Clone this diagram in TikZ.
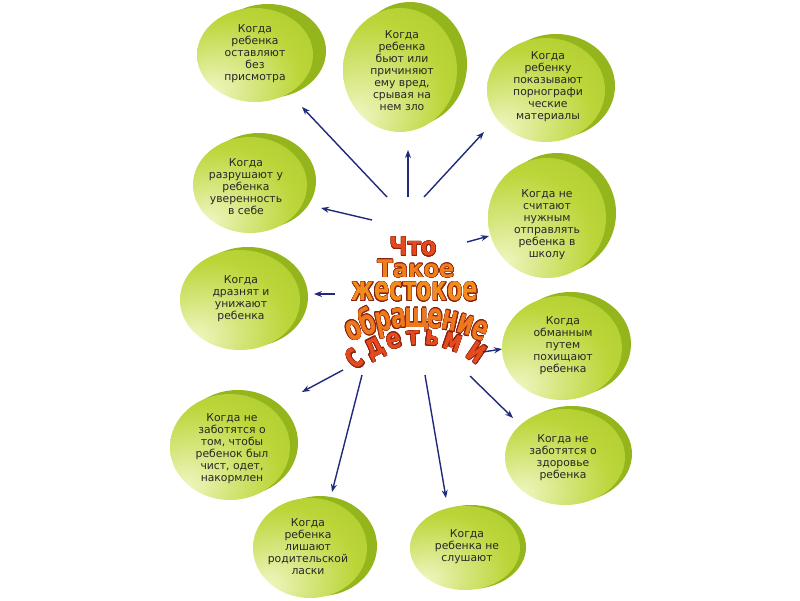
\documentclass[tikz,border=0pt]{standalone}
\usepackage{fontspec}
\usepackage{contour}
\usetikzlibrary{arrows.meta}
\newfontfamily\bubblefont{DejaVu Sans}
\newfontfamily\wordfont{DejaVu Sans}
\definecolor{bubblelight}{HTML}{F2F7C6}
\definecolor{bubblemid}{HTML}{BCD63A}
\definecolor{bubbledark}{HTML}{A6C626}
\definecolor{bubbleback}{HTML}{94B61C}
\definecolor{bubbleink}{HTML}{262626}
\definecolor{arrowblue}{HTML}{1F2A78}
\definecolor{wordedge}{HTML}{8A2010}
\definecolor{wordorange}{HTML}{F28C1C}
\definecolor{wordred}{HTML}{E44A1C}
\pgfdeclareradialshading{bubblefront}{\pgfpoint{-20bp}{-20bp}}{color(0bp)=(bubblelight); color(14bp)=(bubblelight!55!bubblemid); color(32bp)=(bubblemid); color(55bp)=(bubbledark); color(90bp)=(bubbledark)}
\pgfdeclareradialshading{bubbleshadow}{\pgfpoint{-12bp}{-12bp}}{color(0bp)=(bubbleback); color(48bp)=(bubbleback); color(60bp)=(bubblemid); color(90bp)=(bubblemid!70!bubblelight)}
\contourlength{0.6pt}
\newcommand\outl[1]{\contour{wordedge}{#1}}

\begin{document}
\begin{tikzpicture}[x=1pt,y=-1pt,
    arr/.style={draw=arrowblue,line width=1.4pt,-{Stealth[length=8pt,width=6pt]}},
    bubbletext/.style={font=\bubblefont\fontsize{10.8}{12}\selectfont,text=bubbleink,align=center,inner sep=0pt},
    wa/.style={font=\wordfont\bfseries\fontsize{27}{27}\selectfont,inner sep=0pt,xscale=0.84}]
    \useasboundingbox[fill=white] (0,0) rectangle (800,600);

    % bubbles: centre, radii, shift of the disc behind
    \foreach \x/\y/\rx/\ry/\dx/\dy in {255/55/58/47/13/-4, 400/70/57/62/10/-6, 546/90/59/52/10/-4,
        250/185/57/48/9/-4, 547/218/59/60/10/-5, 240/300/60/50/8/-3, 562/348/60/52/9/-4,
        230/447/60/53/8/-4, 565/457/60/48/7/-3, 310/548/57/50/10/-2, 465/548/55/42/6/-1}{
        \shade[shading=bubbleshadow] ({\x+\dx},{\y+\dy}) ellipse [x radius=\rx, y radius=\ry];
        \shade[shading=bubblefront] (\x,\y) ellipse [x radius=\rx, y radius=\ry];
    }

    \node[bubbletext] (b1) at (255,54) {Когда\\ребенка\\оставляют\\без\\присмотра};
    \node[bubbletext] (b2) at (402,71) {Когда\\ребенка\\бьют или\\причиняют\\ему вред,\\срывая на\\нем зло};
    \node[bubbletext] (b3) at (548,87) {Когда\\ребенку\\показывают\\порнографи\\ческие\\материалы};
    \node[bubbletext] (b4) at (246,187) {Когда\\разрушают у\\ребенка\\уверенность\\в себе};
    \node[bubbletext] (b5) at (547,225) {Когда не\\считают\\нужным\\отправлять\\ребенка в\\школу};
    \node[bubbletext] (b6) at (241,299) {Когда\\дразнят и\\унижают\\ребенка};
    \node[bubbletext] (b7) at (563,346) {Когда\\обманным\\путем\\похищают\\ребенка};
    \node[bubbletext] (b8) at (232,449) {Когда не\\заботятся о\\том, чтобы\\ребенок был\\чист, одет,\\накормлен};
    \node[bubbletext] (b9) at (563,458) {Когда не\\заботятся о\\здоровье\\ребенка};
    \node[bubbletext] (b10) at (308,547) {Когда\\ребенка\\лишают\\родительской\\ласки};
    \node[bubbletext] (b11) at (467,547) {Когда\\ребенка не\\слушают};

    % title
    \node[wa,yscale=0.95,text=wordred] (t1) at (413,247) {\outl{Что}};
    \node[wa,yscale=0.9,text=wordorange!80!wordred] (t2) at (416,269) {\outl{Такое}};
    \node[wa,yscale=1.25,text=wordorange] (t3) at (415,292) {\outl{жестокое}};
    \foreach \ch/\a in {о/-23,б/-17.5,р/-12,а/-6.5,щ/0,е/6.5,н/12,и/17.5,е/23}
        \node[rotate=-\a,wa,yscale=1.3,anchor=base,text=wordorange!70!wordred] (t4\a) at ({417+152*sin(\a)},{479-152*cos(\a)}) {\outl{\ch}};
    \foreach \ch/\a/\s in {с/-40/1.35,д/-27/1.2,е/-15/1.05,т/-4/0.95,ь/7/1.0,м/19/1.15,и/34/1.35}
        \node[rotate=-\a,wa,yscale=\s,anchor=base,text=wordred] (t5\a) at ({420+92*sin(\a)},{437-92*cos(\a)}) {\outl{\ch}};

    % arrows
    \coordinate (s1) at (387,197);  \coordinate (e1) at (302,107);
    \coordinate (s2) at (408,197);  \coordinate (e2) at (408,150);
    \coordinate (s3) at (424,197);  \coordinate (e3) at (484,132);
    \coordinate (s4) at (372,220);  \coordinate (e4) at (321,208);
    \coordinate (s5) at (467,242);  \coordinate (e5) at (489,236);
    \coordinate (s6) at (335,294);  \coordinate (e6) at (314,294);
    \coordinate (s7) at (483,352);  \coordinate (e7) at (502,349);
    \coordinate (s8) at (343,370);  \coordinate (e8) at (302,392);
    \coordinate (s9) at (362,375);  \coordinate (e9) at (332,492);
    \coordinate (s10) at (425,375); \coordinate (e10) at (446,498);
    \coordinate (s11) at (470,376); \coordinate (e11) at (513,418);
    \foreach \i in {1,...,11}
        \draw[arr] (s\i) -- (e\i);
\end{tikzpicture}
\end{document}
